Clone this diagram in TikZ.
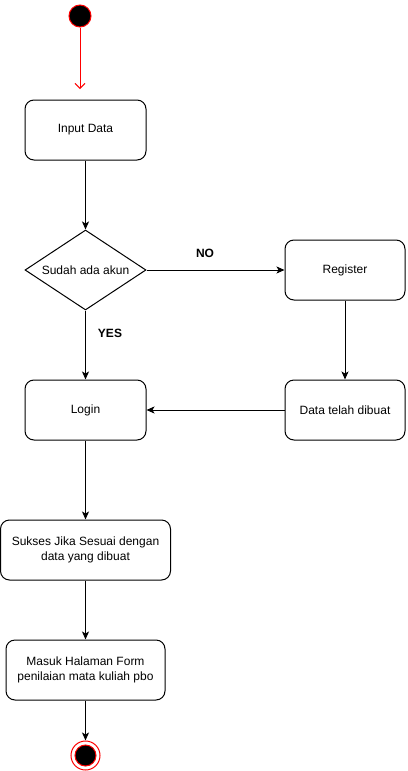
\documentclass[tikz,border=0pt]{standalone}
\usepackage{fontspec}
\setmainfont{Liberation Sans}
\usetikzlibrary{arrows.meta,shapes.geometric}
\begin{document}
\begin{tikzpicture}[x=1pt,y=-1pt,
  every node/.style={font=\fontsize{12}{15}\selectfont},
  act/.style={draw=black,line width=1pt,rounded corners=9pt,minimum width=#1,minimum height=60pt,inner sep=0pt,align=center},
  act/.default=121pt,
  dec/.style={draw=black,line width=1pt,diamond,aspect=1.5125,minimum width=121pt,minimum height=80pt,inner sep=0pt},
  flow/.style={draw=black,line width=1pt,-{Stealth[length=8pt,width=7pt,inset=2pt]}},
  lbl/.style={font=\fontsize{12}{15}\selectfont\bfseries}
]
\useasboundingbox (0,0) rectangle (407,771);
\node[circle,draw=red,fill=black,line width=1pt,minimum size=22pt,inner sep=0pt] (start) at (80,16) {};
\coordinate (startend) at (80,89);
\node[act] (input) at (85.5,130) {Input Data};
\node[dec] (dec) at (85.5,270) {Sudah ada akun};
\node[act=120pt] (reg) at (345,270) {Register};
\node[act=120pt] (data) at (345,410) {Data telah dibuat};
\node[act] (login) at (85.5,410) {Login};
\node[act=170pt] (sukses) at (85.5,550) {Sukses Jika Sesuai dengan\\data yang dibuat};
\node[act=159pt] (masuk) at (85.5,670) {Masuk Halaman Form\\penilaian mata kuliah pbo};
\node[circle,draw=red,line width=1pt,minimum size=29pt,inner sep=0pt] (end) at (85.5,755.5) {};
\node[circle,draw=red,fill=black,line width=1pt,minimum size=21pt,inner sep=0pt] (endin) at (85.5,755.5) {};
\node[lbl] (no) at (205,253.5) {NO};
\node[lbl] (yes) at (110,333.5) {YES};
\draw[red,line width=1pt,-{Straight Barb[length=5pt,width=10pt]}] (start) -- (startend);
\draw[flow] (input) -- (dec);
\draw[flow] (dec) -- (login);
\draw[flow] (dec) -- (reg);
\draw[flow] (reg) -- (data);
\draw[flow] (data) -- (login);
\draw[flow] (login) -- (sukses);
\draw[flow] (sukses) -- (masuk);
\draw[flow] (masuk) -- (end);
\end{tikzpicture}
\end{document}
